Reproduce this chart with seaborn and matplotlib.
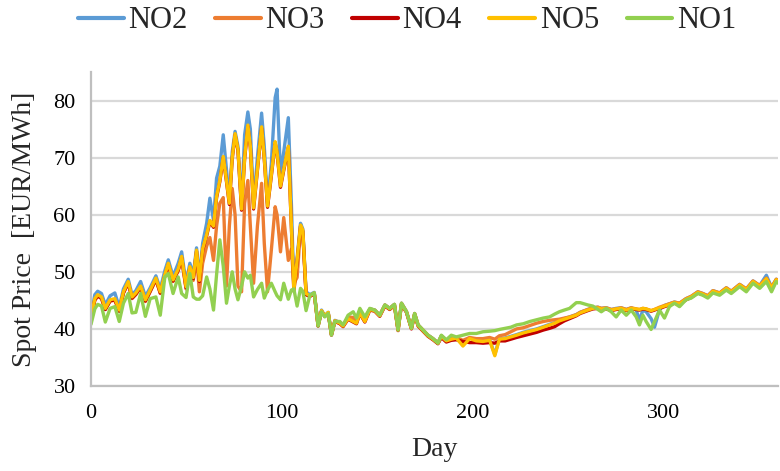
import matplotlib
matplotlib.use("Agg")
import matplotlib.pyplot as plt
import pandas as pd
import seaborn as sns

# ---------------- data ----------------
zones = ["NO2", "NO3", "NO4", "NO5", "NO1"]
colors = ["#5B9BD5", "#ED7D31", "#C00000", "#FFC000", "#92D050"]

days_early = [0, 2, 3.5, 5.5, 7.5, 10, 12.5, 14.8, 17, 19.5,
              21.5, 23.5, 26, 28.5, 31, 34, 36.3, 38.7, 40.5, 43,
              45.7, 47.5, 49.8, 51.8, 53.6, 55.3, 56.8, 58.5, 60.6, 62.3,
              64.2, 65.8, 67.5, 69.3, 71, 72.5, 74, 75.5, 77, 78.9,
              80.5, 82.2, 83.5, 85.2, 87.2, 89.4, 90.8, 92.5, 94.5, 96.5,
              97.5, 99.3, 101, 103.4, 105, 106.3, 108, 109.8, 111, 112.7,
              114.7, 117, 119]
days_late = [120.8, 122.5, 124.3, 126, 127.8, 130.4, 132.1, 134.7, 137.4, 139.1,
             140.9, 143.5, 146.1, 148.7, 151.3, 154, 156.5, 159, 160.9, 162.7,
             165.3, 167.9, 169.6, 171.4, 174, 176.6, 179.2, 181.8, 183.6, 186.2,
             188.8, 191.4, 194.9, 198.4, 201.9, 205.4, 208.9, 211.6, 214, 217,
             220, 223, 226.5, 230, 233.5, 237, 240.3, 243, 245.4, 248,
             250.8, 254.3, 256.3, 260.3, 263, 265.6, 267.4, 270, 272.6, 275.2,
             277.8, 280.5, 283.1, 285.7, 287.4, 289.2, 290.9, 293.5, 295.3, 297.9,
             300.5, 303.1, 305.7, 308.4, 311.8, 314.5, 318, 320.6, 323.2, 325.9,
             329.4, 332.9, 335.5, 339.9, 343.4, 346.9, 350.4, 353.9, 356.6, 359.1,
             362]

no1_early = [40.8, 43.5, 44.3, 44.0, 41.2, 43.6, 43.9, 41.3, 44.5, 46.2,
             42.8, 42.9, 46.2, 42.2, 45.3, 45.6, 42.4, 49.1, 49.7, 46.2,
             49.1, 46.2, 45.5, 49.7, 45.6, 45.2, 45.2, 45.8, 49.1, 47.0,
             43.3, 49.5, 55.6, 51.0, 44.5, 47.5, 50.0, 47.0, 45.1, 47.5,
             50.0, 48.9, 49.4, 45.6, 46.9, 48.0, 45.4, 46.8, 48.0, 46.5,
             45.8, 45.1, 48.0, 45.2, 46.8, 47.0, 44.0, 47.1, 46.6, 43.2,
             45.9, 46.3, 40.5]
no5_early = [42.0, 45.3, 46.0, 45.6, 43.6, 45.1, 45.3, 43.3, 46.5, 48.3,
             45.6, 46.3, 47.5, 45.1, 46.8, 48.9, 46.5, 49.5, 51.5, 48.6,
             50.5, 52.7, 47.4, 50.9, 49.0, 53.8, 48.5, 54.0, 56.5, 59.0,
             58.0, 63.2, 66.0, 70.2, 66.0, 62.0, 70.0, 74.2, 71.5, 61.0,
             70.0, 75.7, 72.0, 61.2, 68.0, 75.4, 70.0, 61.5, 67.0, 72.8,
             71.0, 65.0, 68.0, 72.0, 58.0, 46.8, 52.0, 58.2, 57.3, 46.2,
             45.8, 46.3, 40.6]
no4_early = [41.8, 45.1, 45.8, 45.4, 43.4, 44.9, 45.1, 43.1, 46.3, 48.1,
             45.4, 46.1, 47.3, 44.9, 46.6, 48.7, 46.3, 49.3, 51.3, 48.4,
             50.3, 52.5, 47.2, 50.7, 48.8, 53.6, 48.3, 53.8, 56.3, 58.8,
             57.8, 63.0, 65.8, 70.0, 65.8, 61.8, 69.8, 74.0, 71.3, 60.8,
             69.8, 75.5, 71.8, 61.0, 67.8, 75.2, 69.8, 61.3, 66.8, 72.6,
             70.8, 64.8, 67.8, 71.8, 57.8, 46.6, 51.8, 58.0, 57.1, 46.0,
             45.7, 46.2, 40.5]
no3_early = [41.8, 45.0, 45.7, 45.3, 43.4, 44.9, 45.0, 43.1, 46.3, 48.0,
             45.3, 46.0, 47.3, 44.8, 46.5, 48.6, 46.2, 49.2, 51.2, 48.3,
             50.2, 52.2, 47.0, 50.5, 48.5, 52.5, 46.5, 51.5, 54.5, 56.0,
             52.0, 58.0, 62.0, 63.0, 47.5, 58.0, 64.6, 60.0, 47.5, 46.5,
             62.0, 66.0, 58.0, 48.0, 58.0, 65.5, 55.0, 46.5, 53.8, 61.4,
             60.0, 53.5, 59.5, 52.0, 54.0, 48.0, 49.0, 57.5, 56.5, 46.0,
             45.7, 46.2, 40.5]
no2_early = [42.3, 46.0, 46.6, 46.2, 44.2, 45.8, 46.3, 43.8, 47.0, 48.7,
             46.0, 46.7, 48.3, 45.7, 47.2, 49.3, 47.0, 50.2, 52.1, 49.2,
             51.5, 53.5, 48.0, 51.5, 49.5, 54.2, 49.0, 55.0, 58.5, 62.9,
             59.0, 66.4, 68.5, 74.0, 68.0, 62.5, 71.0, 74.6, 72.0, 61.5,
             74.0, 78.0, 75.0, 62.0, 70.0, 77.8, 72.0, 62.0, 69.0, 80.5,
             82.0, 67.0, 71.0, 77.0, 62.0, 47.2, 52.5, 58.5, 57.5, 46.5,
             46.0, 46.4, 40.7]

no1_late = [43.0, 42.1, 42.7, 38.9, 41.3, 41.3, 40.7, 42.4, 43.0, 41.9,
            43.6, 42.1, 43.6, 43.3, 42.4, 44.2, 43.6, 44.3, 39.8, 44.5,
            43.0, 40.1, 42.7, 40.7, 39.8, 38.9, 38.3, 37.5, 38.9, 38.1,
            38.9, 38.6, 38.9, 39.2, 39.2, 39.5, 39.6, 39.7, 39.9, 40.1,
            40.3, 40.7, 40.9, 41.3, 41.6, 41.9, 42.1, 42.6, 43.0, 43.3,
            43.6, 44.6, 44.6, 44.2, 44.0, 43.4, 43.0, 43.6, 43.0, 42.1,
            43.3, 42.4, 43.3, 42.1, 40.7, 42.4, 41.3, 39.9, 41.3, 43.3,
            41.9, 43.9, 44.5, 43.9, 45.1, 45.4, 46.2, 45.9, 45.4, 46.3,
            45.9, 46.8, 46.2, 47.4, 46.5, 48.0, 47.1, 48.3, 46.5, 48.3,
            47.5]
no5_late = [43.2, 42.3, 42.9, 39.0, 41.4, 41.0, 40.5, 41.8, 41.3, 41.0,
            42.8, 41.3, 43.4, 43.2, 42.3, 44.1, 43.5, 44.2, 39.8, 44.4,
            43.0, 40.1, 42.6, 40.6, 39.7, 38.8, 38.2, 37.5, 38.7, 37.9,
            38.2, 38.4, 37.0, 38.3, 37.9, 37.8, 38.0, 35.3, 38.2, 38.3,
            38.6, 38.9, 39.3, 39.6, 39.9, 40.3, 40.7, 41.0, 41.4, 41.7,
            42.0, 42.4, 42.8, 43.3, 43.6, 43.7, 43.5, 43.6, 43.3, 43.5,
            43.6, 43.3, 43.6, 43.5, 43.4, 43.6, 43.5, 43.2, 43.4, 43.7,
            44.0, 44.3, 44.6, 44.4, 45.2, 45.6, 46.4, 46.1, 45.7, 46.6,
            46.2, 47.1, 46.5, 47.7, 46.9, 48.3, 47.5, 48.8, 47.2, 48.6,
            48.0]
no4_late = [43.1, 42.2, 42.8, 38.9, 41.3, 40.9, 40.4, 41.7, 41.2, 40.9,
            42.7, 41.2, 43.3, 43.1, 42.2, 44.0, 43.4, 44.1, 39.7, 44.3,
            42.9, 40.0, 42.5, 40.5, 39.6, 38.7, 38.1, 37.4, 38.5, 37.7,
            38.0, 38.1, 37.8, 37.6, 37.6, 37.5, 37.6, 37.5, 37.9, 37.9,
            38.2, 38.5, 38.8, 39.1, 39.4, 39.8, 40.1, 40.4, 40.9, 41.4,
            41.8, 42.3, 42.7, 43.2, 43.5, 43.6, 43.4, 43.5, 43.2, 43.4,
            43.5, 43.2, 43.5, 43.4, 43.3, 43.5, 43.4, 43.1, 43.3, 43.6,
            43.9, 44.2, 44.5, 44.3, 45.1, 45.5, 46.3, 46.0, 45.6, 46.5,
            46.1, 47.0, 46.4, 47.6, 46.8, 48.2, 47.4, 48.7, 47.1, 48.5,
            47.9]
no3_late = [43.1, 42.2, 42.8, 39.0, 41.4, 41.2, 40.6, 42.1, 42.0, 41.5,
            43.2, 41.7, 43.5, 43.3, 42.4, 44.2, 43.6, 44.3, 39.8, 44.5,
            43.0, 40.1, 42.7, 40.7, 39.8, 38.9, 38.3, 37.5, 38.8, 38.0,
            38.5, 38.5, 38.0, 38.5, 38.3, 38.3, 38.5, 38.2, 38.8, 39.0,
            39.5, 40.0, 40.2, 40.6, 41.0, 41.3, 41.5, 41.6, 41.7, 41.9,
            42.1, 42.5, 42.9, 43.4, 43.7, 43.8, 43.6, 43.7, 43.4, 43.5,
            43.7, 43.4, 43.7, 43.5, 43.4, 43.6, 43.5, 43.2, 43.4, 43.8,
            44.1, 44.4, 44.7, 44.5, 45.3, 45.7, 46.5, 46.2, 45.8, 46.7,
            46.3, 47.2, 46.6, 47.8, 47.0, 48.4, 47.6, 48.9, 47.3, 48.7,
            48.1]
no2_late = [43.3, 42.3, 42.9, 39.0, 41.5, 41.1, 40.6, 41.9, 41.5, 41.1,
            42.9, 41.4, 43.5, 43.3, 42.4, 44.2, 43.6, 44.3, 39.9, 44.5,
            43.1, 40.2, 42.7, 40.7, 39.8, 38.9, 38.3, 37.6, 38.8, 38.0,
            38.3, 38.4, 37.2, 38.4, 38.0, 37.9, 38.1, 35.5, 38.3, 38.4,
            38.7, 39.0, 39.4, 39.7, 40.0, 40.4, 40.8, 41.1, 41.5, 41.8,
            42.1, 42.5, 42.9, 43.4, 43.7, 43.8, 43.6, 43.7, 43.4, 43.6,
            43.7, 43.4, 43.7, 43.3, 41.5, 43.3, 43.0, 41.8, 40.3, 43.4,
            44.1, 44.4, 44.7, 44.5, 45.3, 45.7, 46.5, 46.2, 45.8, 46.7,
            46.3, 47.2, 46.6, 47.8, 47.0, 48.4, 47.6, 49.4, 47.3, 48.7,
            48.1]

x_ticks = [0, 100, 200, 300]
y_ticks = [30, 40, 50, 60, 70, 80]

# ---------------- build long table ----------------
series = {
    "NO2": no2_early + no2_late,
    "NO3": no3_early + no3_late,
    "NO4": no4_early + no4_late,
    "NO5": no5_early + no5_late,
    "NO1": no1_early + no1_late,
}
all_days = days_early + days_late
frames = [pd.DataFrame({"Day": all_days, "Price": vals, "Zone": z})
          for z, vals in series.items()]
df = pd.concat(frames, ignore_index=True)

# ---------------- plot ----------------
sns.set_theme(style="white")
plt.rcParams["font.family"] = ["Liberation Serif", "DejaVu Serif"]

fig = plt.figure(figsize=(7.8, 4.71), dpi=100)
ax = fig.add_axes([91 / 780, 85 / 471, 687 / 780, 314 / 471])

sns.lineplot(data=df, x="Day", y="Price", hue="Zone", hue_order=zones,
             palette=colors, estimator=None, sort=True, linewidth=2.4,
             ax=ax, legend=True)

ax.set_xlim(0, 360)
ax.set_ylim(30, 85)
ax.set_xticks(x_ticks)
ax.set_yticks(y_ticks)
ax.yaxis.grid(True, color="#D9D9D9", linewidth=1.6)
ax.xaxis.grid(False)
ax.set_axisbelow(True)
for s in ["top", "right"]:
    ax.spines[s].set_visible(False)
for s in ["left", "bottom"]:
    ax.spines[s].set_color("#BFBFBF")
    ax.spines[s].set_linewidth(1.6)
ax.tick_params(axis="both", length=0, labelsize=16, colors="black")
ax.tick_params(axis="x", pad=13)
ax.tick_params(axis="y", pad=11)
ax.set_xlabel("Day", fontsize=20, labelpad=10)
ax.set_ylabel("Spot Price  [EUR/MWh]", fontsize=20, labelpad=12)

handles, labels = ax.get_legend_handles_labels()
ax.get_legend().remove()
leg = fig.legend(handles, labels, loc="center", bbox_to_anchor=(407 / 780, 1 - 21 / 471),
                 ncol=5, frameon=False, fontsize=22, handlelength=1.5,
                 handletextpad=0.15, columnspacing=0.9)
for line in leg.get_lines():
    line.set_linewidth(3)

fig.savefig("out.png", dpi=100)
